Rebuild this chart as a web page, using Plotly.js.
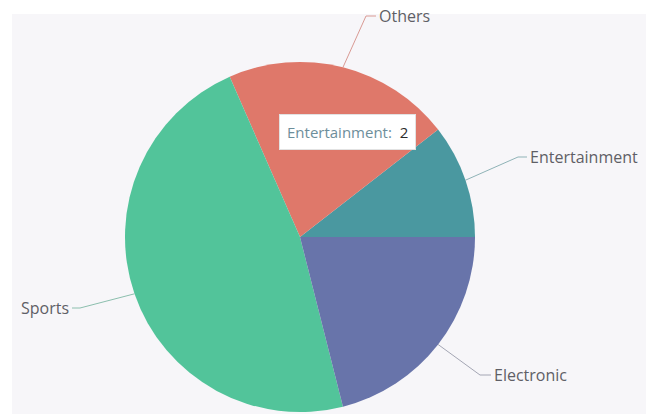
<!DOCTYPE html>
<html>
<head>
<meta charset="utf-8">
<script src="https://cdn.plot.ly/plotly-3.0.1.min.js"></script>
<style>html,body{margin:0;padding:0;background:#fff;}#chart{width:646px;height:414px;}</style>
</head>
<body>
<div id="chart"></div>
<script>
// ---- data ----
const categories = ["Entertainment", "Others", "Sports", "Electronic"];
const values = [2, 4, 9, 4];
const tooltipIndex = 0;

// ---- style / geometry ----
const W = 646, H = 414;
const colors = ["#4a98a0", "#df786a", "#52c49a", "#6874aa"];
const lineColors = ["#8fb3b7", "#d99a94", "#8cbfae", "#a4a6b4"];
const cx = 300, cy = 237, R = 175;
// elbow point and end-x of each leader line (pixels)
const labelLayout = [
  {ex: 518, ey: 157, end: 527, side: "left"},
  {ex: 366, ey: 16,  end: 376, side: "left"},
  {ex: 80,  ey: 308, end: 72,  side: "right"},
  {ex: 480, ey: 375, end: 491, side: "left"}
];

const px = x => x / W;
const py = y => (H - y) / H;

const total = values.reduce((a, b) => a + b, 0);
// Plotly (counterclockwise): rotation marks the END of the first slice,
// measured clockwise from 12 o'clock. First slice should start at 3 o'clock.
const rotation = 90 - 360 * values[0] / total;

const trace = {
  type: "pie",
  labels: categories,
  values: values,
  sort: false,
  direction: "counterclockwise",
  rotation: rotation,
  textinfo: "none",
  hoverinfo: "none",
  marker: {colors: colors, line: {width: 0}},
  domain: {x: [px(cx - R), px(cx + R)], y: [py(cy + R), py(cy - R)]},
  showlegend: false
};

const shapes = [{
  type: "rect", xref: "paper", yref: "paper", layer: "below",
  x0: px(12), x1: 1, y0: 0, y1: py(14),
  fillcolor: "#f7f6f9", line: {width: 0}
}];
const annotations = [];
let cum = 0;
values.forEach((v, i) => {
  const mid = (cum + v / 2) / total * 2 * Math.PI; // ccw from 3 o'clock
  cum += v;
  const sx = cx + R * Math.cos(mid), sy = cy - R * Math.sin(mid);
  const L = labelLayout[i];
  shapes.push({
    type: "path", xref: "paper", yref: "paper", layer: "above",
    path: `M ${px(sx)},${py(sy)} L ${px(L.ex)},${py(L.ey)} L ${px(L.end)},${py(L.ey)}`,
    line: {color: lineColors[i], width: 1}
  });
  annotations.push({
    xref: "paper", yref: "paper", showarrow: false,
    x: px(L.side === "left" ? L.end + 1 : L.end - 1), y: py(L.ey),
    xanchor: L.side, yanchor: "middle",
    text: categories[i],
    font: {family: "Open Sans, sans-serif", size: 16, color: "#5f5f66"}
  });
});

// tooltip box
annotations.push({
  xref: "paper", yref: "paper", showarrow: false,
  x: px(347), y: py(132), xanchor: "center", yanchor: "middle",
  text: `<span style="color:#6d8e9b">${categories[tooltipIndex]}:</span>  <span style="color:#2b2b2b">${values[tooltipIndex]}</span>`,
  font: {family: "Open Sans, sans-serif", size: 15},
  bgcolor: "#ffffff", bordercolor: "#e2e2e2", borderwidth: 1, borderpad: 7
});

const layout = {
  width: W, height: H,
  margin: {l: 0, r: 0, t: 0, b: 0},
  paper_bgcolor: "#ffffff",
  shapes: shapes,
  annotations: annotations,
  showlegend: false
};

Plotly.newPlot("chart", [trace], layout, {displayModeBar: false, staticPlot: true});
</script>
</body>
</html>
